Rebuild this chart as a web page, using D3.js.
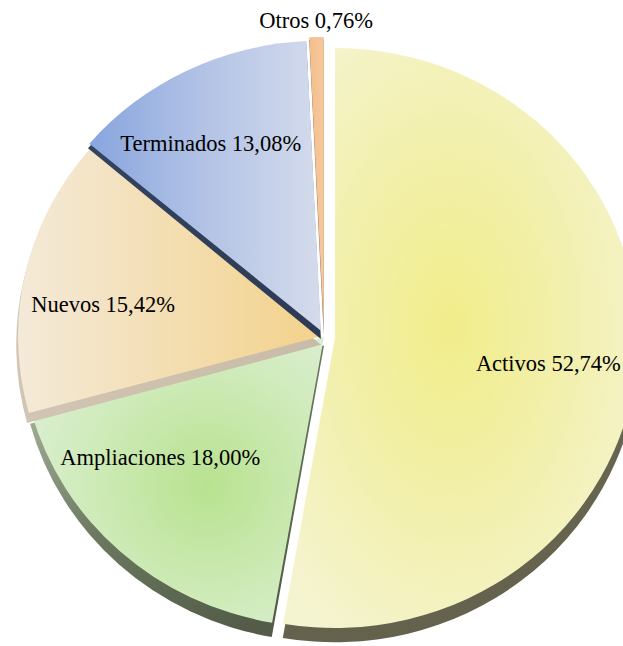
<!DOCTYPE html>
<html>
<head>
<meta charset="utf-8">
<script src="https://cdn.jsdelivr.net/npm/d3@7/dist/d3.min.js"></script>
<style>
  html, body { margin: 0; padding: 0; background: #ffffff; }
  svg { display: block; }
  text { font-family: "Liberation Serif", "Times New Roman", serif; font-size: 22.5px; fill: #000; }
</style>
</head>
<body>
<svg id="chart" width="623" height="646"></svg>
<script>
// ---- data ----
const categories = ["Activos", "Ampliaciones", "Nuevos", "Terminados", "Otros"];
const values = [52.74, 18.00, 15.42, 13.08, 0.76];

// ---- layout ----
const W = 623, H = 646;
const cx = 324, cy = 337;
const ry = 290, xStretch = 303 / 290;
const explode = [11, 0, 3, 7, 10];
const drawOrder = [1, 2, 3, 4, 0];
const shadowScale = [1.006, 1.02], shadowShift = [0, 8.5];
const labelNudge = [[1, 8], [-13, -38], [-2, 14], [-14, -1], [0, 3]];

const esLocale = d3.formatLocale({decimal: ",", thousands: ".", grouping: [3], currency: ["", " €"]});
const fmt = esLocale.format(".2f");

const svg = d3.select("#chart");
const defs = svg.append("defs");

function linGrad(id, x1, y1, x2, y2, stops) {
  const g = defs.append("linearGradient").attr("id", id)
    .attr("x1", x1).attr("y1", y1).attr("x2", x2).attr("y2", y2);
  stops.forEach(s => g.append("stop").attr("offset", s[0]).attr("stop-color", s[1]));
}
function radGrad(id, cxp, cyp, r, stops) {
  const g = defs.append("radialGradient").attr("id", id)
    .attr("cx", cxp).attr("cy", cyp).attr("r", r);
  stops.forEach(s => g.append("stop").attr("offset", s[0]).attr("stop-color", s[1]));
}

// top faces
radGrad("g0", 0.47, 0.48, 0.62, [[0, "#f1ed8a"], [0.55, "#f2f0ae"], [1, "#f5f4d0"]]);
radGrad("g1", 0.6, 0.52, 0.62, [[0, "#b8e28f"], [0.6, "#cdeab6"], [1, "#d9eece"]]);
linGrad("g2", 0, 0, 1, 0, [[0, "#f4ead9"], [1, "#f3d28b"]]);
linGrad("g3", 0, 0, 1, 0, [[0, "#88a5de"], [0.5, "#b3c3e6"], [1, "#d4dbeb"]]);
linGrad("g4", 0, 0, 1, 0, [[0, "#f3bf8c"], [1, "#f6c89c"]]);
// side faces
linGrad("s0", 0, 0, 0, 1, [[0, "#6d6b55"], [1, "#64624c"]]);
linGrad("s1", 0, 0.2, 0.7, 1, [[0, "#a4b097"], [0.45, "#6c785f"], [1, "#525c48"]]);
linGrad("s2", 0, 0, 1, 0, [[0, "#d2c5b3"], [1, "#c8bba7"]]);
linGrad("s3", 0, 0, 1, 0, [[0, "#34435f"], [1, "#2c3a55"]]);
linGrad("s4", 0, 0, 1, 0, [[0, "#8a6a4e"], [1, "#8a6a4e"]]);

const pie = d3.pie().sort(null).value(d => d);
const arcs = pie(values);
const arc = d3.arc().innerRadius(0).outerRadius(ry);

const g = svg.append("g")
  .attr("transform", `translate(${cx},${cy}) scale(${xStretch},1)`);

function explodeVec(i) {
  const a = (arcs[i].startAngle + arcs[i].endAngle) / 2;
  return [Math.sin(a) * explode[i] / xStretch, -Math.cos(a) * explode[i]];
}

drawOrder.forEach(i => {
  const e = explodeVec(i);
  const sg = g.append("g");
  sg.append("path")
    .attr("d", arc(arcs[i]))
    .attr("fill", `url(#s${i})`)
    .attr("transform", `translate(${shadowShift[0] / xStretch},${shadowShift[1]}) scale(${shadowScale[0]},${shadowScale[1]}) translate(${e[0]},${e[1]})`);
  sg.append("path")
    .attr("d", arc(arcs[i]))
    .attr("fill", `url(#g${i})`)
    .attr("transform", `translate(${e[0]},${e[1]})`);
});

// labels
const labels = svg.append("g");
arcs.forEach((d, i) => {
  const a = (d.startAngle + d.endAngle) / 2;
  const f = values[i] < 2 ? 1.1 : 0.74;
  const x = cx + Math.sin(a) * ry * xStretch * f + labelNudge[i][0];
  const y = cy - Math.cos(a) * ry * f + labelNudge[i][1];
  labels.append("text")
    .attr("x", x)
    .attr("y", y)
    .attr("dy", "0.32em")
    .attr("text-anchor", "middle")
    .text(`${categories[i]} ${fmt(values[i])}%`);
});
</script>
</body>
</html>
